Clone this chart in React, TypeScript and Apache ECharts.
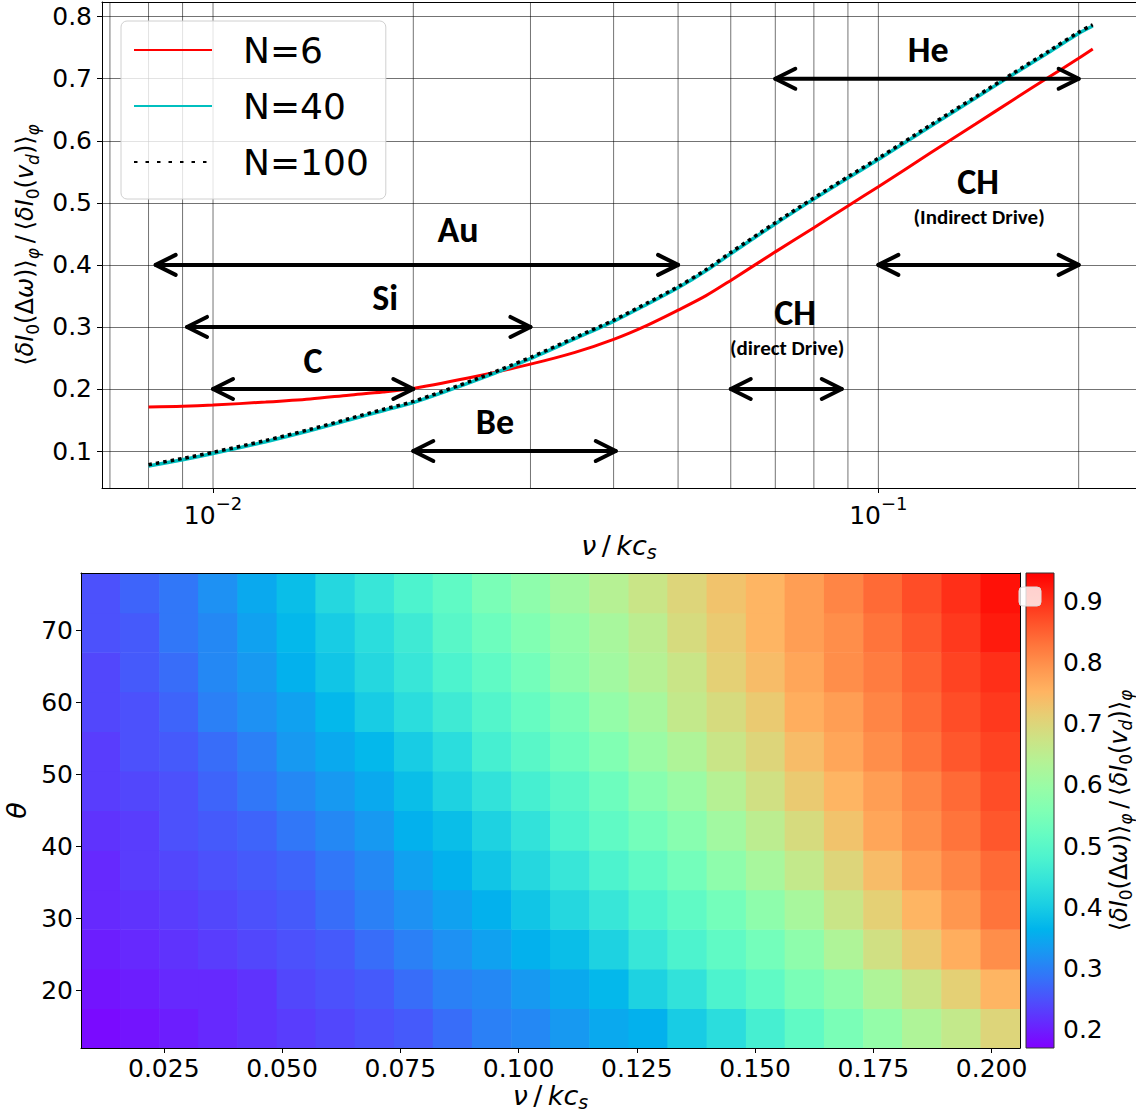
import React, { useEffect, useRef } from 'react';
import * as echarts from 'echarts';

// ---------- top panel data ----------
const nuLine = [0.008, 0.009, 0.010, 0.012, 0.014, 0.016, 0.018, 0.020, 0.025, 0.030, 0.035, 0.040, 0.045, 0.050, 0.055, 0.060, 0.070, 0.080, 0.090, 0.100, 0.120, 0.140, 0.160, 0.180, 0.200, 0.210];
const n6 = [0.171, 0.172, 0.174, 0.179, 0.184, 0.190, 0.195, 0.201, 0.221, 0.240, 0.259, 0.280, 0.303, 0.327, 0.350, 0.375, 0.421, 0.460, 0.495, 0.526, 0.581, 0.627, 0.667, 0.702, 0.733, 0.748];
const n40 = [0.076, 0.086, 0.096, 0.115, 0.133, 0.150, 0.165, 0.178, 0.215, 0.249, 0.281, 0.309, 0.337, 0.363, 0.390, 0.418, 0.466, 0.506, 0.540, 0.570, 0.624, 0.669, 0.708, 0.742, 0.773, 0.785];
const n100 = [0.078, 0.088, 0.098, 0.117, 0.135, 0.152, 0.167, 0.180, 0.217, 0.251, 0.283, 0.311, 0.339, 0.365, 0.392, 0.420, 0.468, 0.508, 0.542, 0.572, 0.626, 0.671, 0.710, 0.744, 0.775, 0.787];

// vertical grid positions (major + minor log ticks)
const gridNu = [0.007, 0.008, 0.009, 0.01, 0.02, 0.03, 0.04, 0.05, 0.06, 0.07, 0.08, 0.09, 0.1, 0.2];

// double arrows: [nu start, nu end, level]
const arrows = [
  [0.0082, 0.0500, 0.4],
  [0.00914, 0.0300, 0.3],
  [0.0100, 0.0200, 0.2],
  [0.0200, 0.0403, 0.1],
  [0.0600, 0.0881, 0.2],
  [0.1000, 0.2000, 0.4],
  [0.0700, 0.2000, 0.7],
];
const speciesNames = ['Au', 'Si', 'C', 'Be', 'CH', 'CH', 'He'];
const speciesNu = [0.02335, 0.01814, 0.01414, 0.02653, 0.07495, 0.1412, 0.1188];
const speciesY = [0.456, 0.347, 0.245, 0.146, 0.323, 0.534, 0.746];
const noteNames = ['(direct Drive)', '(Indirect Drive)'];
const noteNu = [0.07292, 0.1417];
const noteY = [0.266, 0.477];

// ---------- bottom panel data ----------
const nuCells = [0.0116, 0.0199, 0.0282, 0.0364, 0.0447, 0.0530, 0.0612, 0.0695, 0.0778, 0.0860, 0.0943, 0.1026, 0.1108, 0.1191, 0.1274, 0.1356, 0.1439, 0.1522, 0.1604, 0.1687, 0.1770, 0.1852, 0.1935, 0.2018];
const thetaCells = [14.7, 20.2, 25.7, 31.2, 36.7, 42.2, 47.7, 53.2, 58.7, 64.2, 69.7, 75.2];
const heatRows = [
  [0.18, 0.19, 0.20, 0.21, 0.22, 0.23, 0.24, 0.25, 0.26, 0.28, 0.30, 0.31, 0.33, 0.35, 0.36, 0.40, 0.43, 0.47, 0.51, 0.55, 0.59, 0.63, 0.66, 0.70],
  [0.19, 0.20, 0.21, 0.21, 0.22, 0.24, 0.25, 0.26, 0.28, 0.30, 0.31, 0.33, 0.35, 0.37, 0.41, 0.44, 0.48, 0.51, 0.55, 0.58, 0.63, 0.67, 0.71, 0.75],
  [0.20, 0.21, 0.22, 0.23, 0.24, 0.25, 0.26, 0.28, 0.30, 0.32, 0.34, 0.36, 0.38, 0.41, 0.45, 0.48, 0.51, 0.54, 0.58, 0.63, 0.68, 0.72, 0.76, 0.80],
  [0.21, 0.22, 0.23, 0.24, 0.25, 0.26, 0.28, 0.30, 0.32, 0.34, 0.36, 0.39, 0.42, 0.45, 0.48, 0.51, 0.54, 0.58, 0.62, 0.67, 0.71, 0.75, 0.79, 0.83],
  [0.21, 0.23, 0.24, 0.25, 0.26, 0.27, 0.29, 0.31, 0.34, 0.36, 0.39, 0.42, 0.45, 0.48, 0.51, 0.54, 0.58, 0.62, 0.66, 0.70, 0.74, 0.78, 0.81, 0.84],
  [0.22, 0.23, 0.25, 0.26, 0.27, 0.29, 0.31, 0.33, 0.36, 0.38, 0.41, 0.44, 0.48, 0.51, 0.54, 0.57, 0.61, 0.65, 0.69, 0.73, 0.77, 0.80, 0.83, 0.86],
  [0.23, 0.24, 0.25, 0.27, 0.29, 0.31, 0.33, 0.35, 0.38, 0.41, 0.44, 0.47, 0.50, 0.53, 0.57, 0.60, 0.64, 0.68, 0.72, 0.75, 0.78, 0.81, 0.84, 0.87],
  [0.23, 0.25, 0.26, 0.28, 0.30, 0.33, 0.35, 0.37, 0.40, 0.43, 0.47, 0.50, 0.53, 0.56, 0.60, 0.63, 0.67, 0.70, 0.74, 0.77, 0.80, 0.83, 0.86, 0.88],
  [0.24, 0.25, 0.27, 0.30, 0.32, 0.34, 0.37, 0.40, 0.43, 0.46, 0.49, 0.52, 0.55, 0.59, 0.62, 0.66, 0.69, 0.72, 0.76, 0.78, 0.81, 0.84, 0.87, 0.89],
  [0.24, 0.26, 0.28, 0.31, 0.33, 0.36, 0.39, 0.42, 0.45, 0.48, 0.51, 0.54, 0.58, 0.61, 0.64, 0.67, 0.71, 0.74, 0.77, 0.80, 0.82, 0.85, 0.88, 0.90],
  [0.25, 0.26, 0.29, 0.31, 0.34, 0.37, 0.40, 0.43, 0.46, 0.50, 0.53, 0.56, 0.59, 0.62, 0.65, 0.69, 0.72, 0.75, 0.78, 0.80, 0.83, 0.86, 0.89, 0.92],
  [0.25, 0.27, 0.29, 0.32, 0.35, 0.38, 0.42, 0.45, 0.48, 0.51, 0.55, 0.58, 0.61, 0.64, 0.67, 0.70, 0.73, 0.75, 0.78, 0.81, 0.84, 0.87, 0.90, 0.93],
];
const CB_MIN = 0.1705;
const CB_MAX = 0.946;

// matplotlib "rainbow" colormap stops
const RAINBOW = ['#8000ff', '#6628fe', '#4d4ffc', '#3374f8', '#1a96f2', '#00b4ec', '#1acee3', '#33e3da', '#4df3ce', '#66fcc2', '#80ffb4', '#99fca6', '#b3f396', '#cce385', '#e6ce74', '#ffb462', '#ff964f', '#ff743b', '#ff4f28', '#ff2814', '#ff0000'];

const FONT = 'DejaVu Sans';
const LABEL_FONT = 'Carlito, Lato, sans-serif';
const GRID_COLOR = 'rgba(0,0,0,0.55)';
const SPINE = '#000';

const TICK_SIZE = 25;
const mathRich = (size: number) => {
  const sub = Math.round(size * 0.7);
  return {
    m: { fontFamily: FONT, fontSize: size, lineHeight: 32, verticalAlign: 'middle', color: '#000' },
    i: { fontFamily: FONT, fontSize: size, lineHeight: 32, verticalAlign: 'middle', fontStyle: 'italic', color: '#000' },
    sub: { fontFamily: FONT, fontSize: sub, lineHeight: 16, verticalAlign: 'bottom', color: '#000' },
    subi: { fontFamily: FONT, fontSize: sub, lineHeight: 16, verticalAlign: 'bottom', fontStyle: 'italic', color: '#000' },
  };
};
const Y_LABEL = '{m|\u27E8}{i|\u03B4I}{sub|0}{m|(\u0394}{i|\u03C9}{m|)\u27E9}{subi|\u03C6}{m|\u2009/\u2009\u27E8}{i|\u03B4I}{sub|0}{m|(}{i|v}{subi|d}{m|)\u27E9}{subi|\u03C6}';
const X_LABEL = '{i|\u03BD}{m|\u2009/\u2009}{i|kc}{subi|s}';

function buildOption() {
  const heatData: number[][] = [];
  heatRows.forEach((row, j) => row.forEach((v, k) => heatData.push([nuCells[k], thetaCells[j], v])));
  const dNu = nuCells[1] - nuCells[0];
  const dTh = thetaCells[1] - thetaCells[0];

  const lineOnly = (extra: any) => ({
    type: 'value', show: true, z: 10,
    axisLine: { show: true, onZero: false, lineStyle: { color: SPINE, width: 1 } },
    axisTick: { show: false }, axisLabel: { show: false }, splitLine: { show: false },
    ...extra,
  });

  const tickLabel = { fontFamily: FONT, fontSize: TICK_SIZE, color: '#000', showMinLabel: false, showMaxLabel: false };

  return {
    animation: false,
    backgroundColor: '#ffffff',
    textStyle: { fontFamily: FONT },
    grid: [
      { left: 102, right: 0, top: 2, height: 486, containLabel: false, outerBoundsMode: 'none' },
      { left: 81, width: 939, top: 573, height: 475, containLabel: false, outerBoundsMode: 'none' },
      { left: 1026, width: 28, top: 573, height: 475, containLabel: false, outerBoundsMode: 'none' },
    ],
    legend: {
      data: [
        { name: 'N=6' },
        { name: 'N=40' },
        { name: 'N=100', lineStyle: { type: [3.5, 8] } },
      ],
      orient: 'vertical', left: 121, top: 21,
      itemWidth: 78, itemHeight: 14, itemGap: 16,
      padding: [9, 17, 17, 12],
      backgroundColor: 'rgba(255,255,255,0.8)', borderColor: '#d0d0d0', borderWidth: 1, borderRadius: 6,
      selectedMode: false,
      itemStyle: { opacity: 0 },
      textStyle: { fontFamily: FONT, fontSize: 36, lineHeight: 40, color: '#000', padding: [0, 0, 0, 26] },
    },
    visualMap: {
      type: 'continuous', show: false, min: CB_MIN, max: CB_MAX, dimension: 2, seriesIndex: 6,
      inRange: { color: RAINBOW },
    },
    xAxis: [
      {
        gridIndex: 0, type: 'log', logBase: 10, min: 0.00681, max: 0.2439,
        axisLine: { show: true, onZero: false, lineStyle: { color: SPINE } },
        axisTick: { show: true, length: 5, lineStyle: { color: SPINE } },
        splitLine: { show: false },
        axisLabel: {
          ...tickLabel, margin: 6,
          formatter: (v: number) => `{b|10}{sup|\u2212${Math.abs(Math.round(Math.log10(v)))}}`,
          rich: {
            b: { fontFamily: FONT, fontSize: TICK_SIZE, lineHeight: 34, verticalAlign: 'bottom', color: '#000' },
            sup: { fontFamily: FONT, fontSize: 18, lineHeight: 26, verticalAlign: 'top', color: '#000' },
          },
        },
        name: X_LABEL, nameLocation: 'middle', nameGap: 41,
        nameTextStyle: { rich: mathRich(27) },
      },
      lineOnly({ gridIndex: 0, position: 'top', min: 0, max: 1 }),
      {
        gridIndex: 1, type: 'value', min: 0.0075, max: 0.206, minInterval: 0.025, maxInterval: 0.025, z: 10,
        axisLine: { show: true, onZero: false, lineStyle: { color: SPINE } },
        axisTick: { show: true, length: 5, lineStyle: { color: SPINE } },
        splitLine: { show: false },
        axisLabel: { ...tickLabel, margin: 8, formatter: (v: number) => v.toFixed(3) },
        name: X_LABEL, nameLocation: 'middle', nameGap: 28,
        nameTextStyle: { rich: mathRich(27) },
      },
      lineOnly({ gridIndex: 1, position: 'top', min: 0, max: 1 }),
      { gridIndex: 2, type: 'value', min: 0, max: 1, show: false },
    ],
    yAxis: [
      {
        gridIndex: 0, type: 'value', min: 0.0404, max: 0.8237, minInterval: 0.1, maxInterval: 0.1,
        axisLine: { show: true, onZero: false, lineStyle: { color: SPINE } },
        axisTick: { show: true, length: 5, lineStyle: { color: SPINE } },
        splitLine: { show: true, lineStyle: { color: GRID_COLOR, width: 1 } },
        axisLabel: { ...tickLabel, margin: 10, formatter: (v: number) => v.toFixed(1) },
        name: Y_LABEL, nameLocation: 'middle', nameRotate: 90, nameGap: 56,
        nameTextStyle: { rich: mathRich(24) },
      },
      {
        gridIndex: 1, type: 'value', min: 11.95, max: 77.95, minInterval: 10, maxInterval: 10, z: 10,
        axisLine: { show: true, onZero: false, lineStyle: { color: SPINE } },
        axisTick: { show: true, length: 5, lineStyle: { color: SPINE } },
        splitLine: { show: false },
        axisLabel: { ...tickLabel, margin: 8, formatter: (v: number) => String(Math.round(v)) },
        name: '{i|\u03B8}', nameLocation: 'middle', nameRotate: 90, nameGap: 38,
        nameTextStyle: { rich: mathRich(27) },
      },
      lineOnly({ gridIndex: 1, position: 'right', min: 0, max: 1 }),
      {
        gridIndex: 2, type: 'value', position: 'right', min: CB_MIN, max: CB_MAX, minInterval: 0.1, maxInterval: 0.1,
        axisLine: { show: false },
        axisTick: { show: true, length: 5, lineStyle: { color: SPINE } },
        splitLine: { show: false },
        axisLabel: { ...tickLabel, margin: 9, formatter: (v: number) => v.toFixed(1) },
        name: Y_LABEL, nameLocation: 'middle', nameRotate: 90, nameGap: 46,
        nameTextStyle: { rich: mathRich(24) },
      },
    ],
    graphic: [
      {
        type: 'rect', z: 100,
        shape: { x: 1019, y: 587, width: 22, height: 19, r: 4 },
        style: { fill: 'rgba(255,255,255,0.8)', stroke: '#dddddd', lineWidth: 1 },
      },
    ],
    series: [
      {
        name: 'N=6', type: 'line', xAxisIndex: 0, yAxisIndex: 0, symbol: 'none', z: 3, smooth: 0.3,
        data: nuLine.map((x, i) => [x, n6[i]]),
        lineStyle: { color: '#ff0000', width: 3 }, itemStyle: { color: '#ff0000' },
      },
      {
        name: 'N=40', type: 'line', xAxisIndex: 0, yAxisIndex: 0, symbol: 'none', z: 3, smooth: 0.3,
        data: nuLine.map((x, i) => [x, n40[i]]),
        lineStyle: { color: '#00bfbf', width: 3.5 }, itemStyle: { color: '#00bfbf' },
      },
      {
        name: 'N=100', type: 'line', xAxisIndex: 0, yAxisIndex: 0, symbol: 'none', z: 4, smooth: 0.3,
        data: nuLine.map((x, i) => [x, n100[i]]),
        lineStyle: { color: '#000000', width: 3.5, type: [3.5, 4], cap: 'butt' }, itemStyle: { color: '#000000' },
      },
      {
        type: 'custom', xAxisIndex: 0, yAxisIndex: 0, z: 1, silent: true,
        data: gridNu.map((v) => [v, 0.5]),
        encode: { x: 0, y: 1 },
        renderItem: (params: any, api: any) => {
          const x = api.coord([api.value(0), api.value(1)])[0];
          const cs = params.coordSys;
          return {
            type: 'line',
            shape: { x1: x, y1: cs.y, x2: x, y2: cs.y + cs.height },
            style: { stroke: GRID_COLOR, lineWidth: 1 },
          };
        },
      },
      {
        type: 'custom', xAxisIndex: 0, yAxisIndex: 0, z: 5, silent: true,
        data: arrows,
        encode: { x: [0, 1], y: 2 },
        renderItem: (params: any, api: any) => {
          const y = api.value(2);
          const a = api.coord([api.value(0), y]);
          const b = api.coord([api.value(1), y]);
          const h = 20, w = 10;
          const st = { stroke: '#000', lineWidth: 4, fill: 'none', lineCap: 'round', lineJoin: 'round' };
          return {
            type: 'group',
            children: [
              { type: 'line', shape: { x1: a[0], y1: a[1], x2: b[0], y2: b[1] }, style: st },
              { type: 'polyline', shape: { points: [[a[0] + h, a[1] - w], [a[0], a[1]], [a[0] + h, a[1] + w]] }, style: st },
              { type: 'polyline', shape: { points: [[b[0] - h, b[1] - w], [b[0], b[1]], [b[0] - h, b[1] + w]] }, style: st },
            ],
          };
        },
      },
      {
        type: 'custom', xAxisIndex: 0, yAxisIndex: 0, z: 6, silent: true,
        data: speciesNu.map((x, i) => [x, speciesY[i]]),
        encode: { x: 0, y: 1 },
        renderItem: (params: any, api: any) => {
          const p = api.coord([api.value(0), api.value(1)]);
          return {
            type: 'text', x: p[0], y: p[1],
            style: { text: speciesNames[params.dataIndex], fontFamily: LABEL_FONT, fontWeight: 'bold', fontSize: 36, fill: '#000', align: 'center', verticalAlign: 'middle' },
          };
        },
      },
      {
        type: 'custom', xAxisIndex: 2, yAxisIndex: 1, z: 2, silent: true, clip: true,
        data: heatData,
        encode: { x: 0, y: 1 },
        renderItem: (params: any, api: any) => {
          const c = api.value(0), t = api.value(1);
          const p0 = api.coord([c - dNu / 2, t + dTh / 2]);
          const p1 = api.coord([c + dNu / 2, t - dTh / 2]);
          return {
            type: 'rect',
            shape: { x: p0[0], y: p0[1], width: p1[0] - p0[0] + 0.6, height: p1[1] - p0[1] + 0.6 },
            style: { fill: api.visual('color') },
          };
        },
      },
      {
        type: 'custom', xAxisIndex: 4, yAxisIndex: 3, z: 2, silent: true,
        data: [[0, CB_MIN, 1, CB_MAX]],
        encode: { x: [0, 2], y: [1, 3] },
        renderItem: (params: any, api: any) => {
          const p0 = api.coord([api.value(0), api.value(3)]);
          const p1 = api.coord([api.value(2), api.value(1)]);
          const stops = RAINBOW.map((c, i) => ({ offset: i / (RAINBOW.length - 1), color: c }));
          return {
            type: 'rect',
            shape: { x: p0[0], y: p0[1], width: p1[0] - p0[0], height: p1[1] - p0[1] },
            style: { fill: new echarts.graphic.LinearGradient(0, 1, 0, 0, stops), stroke: '#333', lineWidth: 1 },
          };
        },
      },
      {
        type: 'custom', xAxisIndex: 0, yAxisIndex: 0, z: 6, silent: true,
        data: noteNu.map((x, i) => [x, noteY[i]]),
        encode: { x: 0, y: 1 },
        renderItem: (params: any, api: any) => {
          const p = api.coord([api.value(0), api.value(1)]);
          return {
            type: 'text', x: p[0], y: p[1],
            style: { text: noteNames[params.dataIndex], fontFamily: LABEL_FONT, fontWeight: 'bold', fontSize: 21, fill: '#000', align: 'center', verticalAlign: 'middle' },
          };
        },
      },
    ],
  };
}

export default function App() {
  const ref = useRef<HTMLDivElement>(null);
  useEffect(() => {
    const chart = echarts.init(ref.current as HTMLDivElement, null, { renderer: 'svg' });
    chart.setOption(buildOption() as any);
    return () => chart.dispose();
  }, []);
  return <div ref={ref} style={{ position: 'absolute', left: 0, top: 0, width: 1136, height: 1112, background: '#fff' }} />;
}
